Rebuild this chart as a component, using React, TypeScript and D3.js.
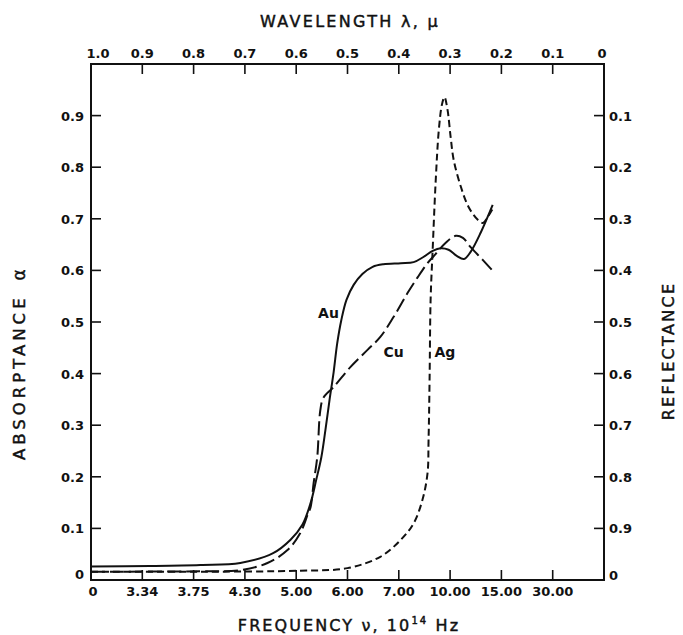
import React from "react";
import * as d3 from "d3";

// Wavelength (μ) ticks, top axis
const topTickValues = [1.0, 0.9, 0.8, 0.7, 0.6, 0.5, 0.4, 0.3, 0.2, 0.1, 0];
const topTickLabels = ["1.0", "0.9", "0.8", "0.7", "0.6", "0.5", "0.4", "0.3", "0.2", "0.1", "0"];
// Frequency labels, bottom axis (placed at the same positions)
const bottomTickLabels = ["0", "3.34", "3.75", "4.30", "5.00", "6.00", "7.00", "10.00", "15.00", "30.00"];
// Absorptance ticks, left axis
const leftTickValues = [0, 0.1, 0.2, 0.3, 0.4, 0.5, 0.6, 0.7, 0.8, 0.9];
const leftTickLabels = ["0", "0.1", "0.2", "0.3", "0.4", "0.5", "0.6", "0.7", "0.8", "0.9"];
// Reflectance labels, right axis
const rightTickLabels = ["0", "0.9", "0.8", "0.7", "0.6", "0.5", "0.4", "0.3", "0.2", "0.1"];

// Au (solid)
const auWavelength = [1.0, 0.885, 0.787, 0.709, 0.645, 0.611, 0.588, 0.572, 0.561, 0.551, 0.543, 0.535, 0.527, 0.52, 0.512, 0.502, 0.488, 0.471, 0.451, 0.43, 0.396, 0.371, 0.352, 0.334, 0.318, 0.303, 0.287, 0.273, 0.26, 0.24, 0.217];
const auAbsorptance = [0.026, 0.027, 0.029, 0.033, 0.052, 0.078, 0.107, 0.149, 0.194, 0.238, 0.291, 0.349, 0.403, 0.459, 0.504, 0.543, 0.572, 0.593, 0.607, 0.612, 0.614, 0.616, 0.626, 0.638, 0.643, 0.64, 0.628, 0.622, 0.636, 0.674, 0.727];

// Cu (long dash)
const cuWavelength = [1.0, 0.787, 0.709, 0.656, 0.617, 0.592, 0.578, 0.572, 0.566, 0.559, 0.553, 0.547, 0.527, 0.494, 0.461, 0.436, 0.41, 0.383, 0.363, 0.344, 0.328, 0.309, 0.289, 0.275, 0.26, 0.236, 0.215];
const cuAbsorptance = [0.016, 0.017, 0.019, 0.033, 0.058, 0.091, 0.126, 0.141, 0.188, 0.238, 0.329, 0.353, 0.374, 0.413, 0.446, 0.471, 0.51, 0.556, 0.587, 0.614, 0.632, 0.653, 0.667, 0.663, 0.645, 0.62, 0.597];

// Ag (short dash)
const agWavelength = [1.0, 0.787, 0.592, 0.5, 0.436, 0.396, 0.371, 0.354, 0.344, 0.342, 0.34, 0.338, 0.334, 0.328, 0.322, 0.316, 0.311, 0.305, 0.299, 0.293, 0.279, 0.264, 0.246, 0.236, 0.227, 0.215];
const agAbsorptance = [0.016, 0.016, 0.018, 0.023, 0.045, 0.078, 0.11, 0.155, 0.207, 0.271, 0.388, 0.543, 0.64, 0.775, 0.872, 0.921, 0.936, 0.911, 0.859, 0.814, 0.762, 0.723, 0.698, 0.692, 0.703, 0.723];

const seriesLabels = [
  { text: "Au", wl: 0.537, a: 0.517 },
  { text: "Cu", wl: 0.41, a: 0.442 },
  { text: "Ag", wl: 0.31, a: 0.442 },
];

const W = 683;
const H = 635;
const L = 91, R = 604, T = 64, B = 580;
const FONT = "'DejaVu Sans', 'Liberation Sans', sans-serif";

export default function App() {
  const x = d3.scaleLinear().domain([1, 0]).range([L, R]);
  const y = d3.scaleLinear().domain([0, 1]).range([B, T]);
  const line = d3
    .line<[number, number]>()
    .x((d) => x(d[0]))
    .y((d) => y(d[1]))
    .curve(d3.curveCatmullRom.alpha(0.5));

  const zip = (a: number[], b: number[]) => a.map((v, i) => [v, b[i]] as [number, number]);
  const au = line(zip(auWavelength, auAbsorptance)) || "";
  const cu = line(zip(cuWavelength, cuAbsorptance)) || "";
  const ag = line(zip(agWavelength, agAbsorptance)) || "";

  const tickLen = 10;
  const tickStyle = { fontFamily: FONT, fill: "#111", fontWeight: 700 } as const;
  const titleStyle = { fontFamily: FONT, fill: "#111", stroke: "#111", strokeWidth: 0.45 } as const;

  return (
    <svg
      width={W}
      height={H}
      viewBox={`0 0 ${W} ${H}`}
      style={{ position: "absolute", left: 0, top: 0, background: "#fff" }}
    >
      <rect x={0} y={0} width={W} height={H} fill="#fff" />
      {/* frame */}
      <rect x={L} y={T} width={R - L} height={B - T} fill="none" stroke="#111" strokeWidth={2} />

      {/* top ticks + labels */}
      {topTickValues.map((v, i) => (
        <g key={"t" + i}>
          {i > 0 && i < topTickValues.length - 1 && (
            <line x1={x(v)} x2={x(v)} y1={T} y2={T + tickLen} stroke="#111" strokeWidth={1.6} />
          )}
          <text
            x={i === 0 ? x(v) + 7 : i === topTickValues.length - 1 ? x(v) - 2 : x(v)}
            y={T - 6}
            textAnchor="middle"
            fontSize={13}
            style={tickStyle}
          >
            {topTickLabels[i]}
          </text>
        </g>
      ))}

      {/* bottom ticks + labels */}
      {bottomTickLabels.map((lab, i) => {
        const v = topTickValues[i];
        return (
          <g key={"b" + i}>
            {i > 0 && (
              <line x1={x(v)} x2={x(v)} y1={B} y2={B - tickLen} stroke="#111" strokeWidth={1.6} />
            )}
            <text
              x={i === 0 ? x(v) + 2 : x(v)}
              y={B + 16}
              textAnchor="middle"
              fontSize={13}
              style={tickStyle}
            >
              {lab}
            </text>
          </g>
        );
      })}

      {/* left ticks + labels */}
      {leftTickValues.map((v, i) => (
        <g key={"l" + i}>
          {i > 0 && <line x1={L} x2={L + tickLen} y1={y(v)} y2={y(v)} stroke="#111" strokeWidth={1.6} />}
          <text
            x={L - 7}
            y={(i === 0 ? y(v) - 6 : y(v)) + 5}
            textAnchor="end"
            fontSize={13}
            style={tickStyle}
          >
            {leftTickLabels[i]}
          </text>
        </g>
      ))}

      {/* right ticks + labels */}
      {leftTickValues.map((v, i) => (
        <g key={"r" + i}>
          {i > 0 && <line x1={R} x2={R - tickLen} y1={y(v)} y2={y(v)} stroke="#111" strokeWidth={1.6} />}
          <text
            x={R + 5}
            y={(i === 0 ? y(v) - 5 : y(v)) + 5}
            textAnchor="start"
            fontSize={13}
            style={tickStyle}
          >
            {rightTickLabels[i]}
          </text>
        </g>
      ))}

      {/* curves */}
      <path d={au} fill="none" stroke="#111" strokeWidth={2} />
      <path d={cu} fill="none" stroke="#111" strokeWidth={2} strokeDasharray="14 5" />
      <path d={ag} fill="none" stroke="#111" strokeWidth={2} strokeDasharray="7 4" />

      {/* series labels */}
      {seriesLabels.map((s) => (
        <text key={s.text} x={x(s.wl)} y={y(s.a) + 5} textAnchor="middle" fontSize={14} style={tickStyle}>
          {s.text}
        </text>
      ))}

      {/* axis titles */}
      <text x={350} y={27} textAnchor="middle" fontSize={16} letterSpacing={2.3} style={titleStyle}>
        WAVELENGTH λ, μ
      </text>
      <text x={349} y={631} textAnchor="middle" fontSize={16} letterSpacing={2.1} style={titleStyle}>
        FREQUENCY ν, 10<tspan fontSize={10} dy={-7}>14</tspan>
        <tspan dy={7}> Hz</tspan>
      </text>
      <text
        transform={`translate(25, 460) rotate(-90)`}
        textAnchor="start"
        fontSize={16.5}
        letterSpacing={4}
        style={titleStyle}
      >
        ABSORPTANCE
      </text>
      <text
        transform={`translate(25, 275) rotate(-90)`}
        textAnchor="middle"
        fontSize={17}
        style={titleStyle}
      >
        α
      </text>
      <text
        transform={`translate(674, 351) rotate(-90)`}
        textAnchor="middle"
        fontSize={16}
        letterSpacing={2.3}
        style={titleStyle}
      >
        REFLECTANCE
      </text>
    </svg>
  );
}
